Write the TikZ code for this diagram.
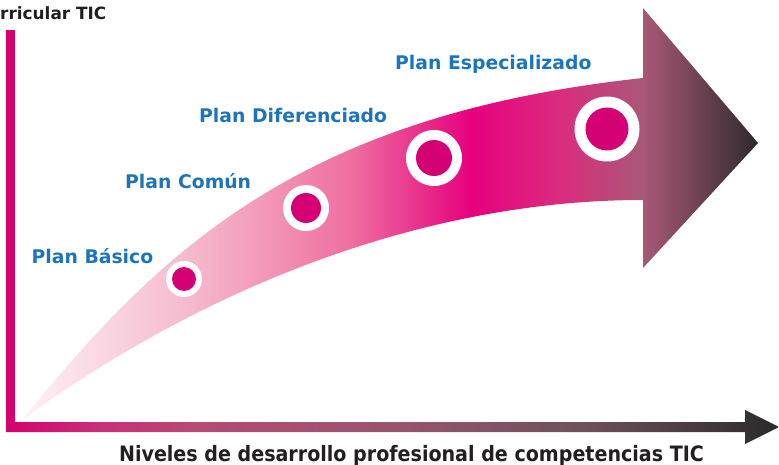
\documentclass[tikz,border=0pt]{standalone}
\usepackage{fontspec}
\setmainfont{DejaVu Sans}
\newfontfamily\axisfont[FakeStretch=0.9]{DejaVu Sans}
\usetikzlibrary{calc}
\definecolor{planblue}{HTML}{1C75BC}
\definecolor{dotmagenta}{HTML}{D40074}
\definecolor{axismagenta}{HTML}{D6006F}
\definecolor{textdark}{HTML}{231F20}
\definecolor{shA}{HTML}{FDF2F6}
\definecolor{shB}{HTML}{F5B6CB}
\definecolor{shC}{HTML}{EE6EA0}
\definecolor{shD}{HTML}{E6007E}
\definecolor{shE}{HTML}{DB2C7E}
\definecolor{shF}{HTML}{A95878}
\definecolor{shG}{HTML}{2E2A2C}
\definecolor{axA}{HTML}{C8307A}
\definecolor{axB}{HTML}{B64A74}
\definecolor{axC}{HTML}{985570}
\definecolor{axD}{HTML}{6E505C}
\definecolor{axE}{HTML}{2A2A2B}
\pgfdeclarehorizontalshading{arrowshade}{100bp}{color(0bp)=(shA); color(25bp)=(shA); color(37bp)=(shB); color(47.4bp)=(shC); color(55.5bp)=(shD); color(61.6bp)=(shE); color(67.2bp)=(shF); color(75bp)=(shG); color(100bp)=(shG)}
\pgfdeclarehorizontalshading{axisshade}{100bp}{color(0bp)=(axismagenta); color(25bp)=(axismagenta); color(31bp)=(axA); color(37.5bp)=(axB); color(50bp)=(axC); color(62.5bp)=(axD); color(75bp)=(axE); color(100bp)=(axE)}
\newcommand{\makelevel}[3]{
	\fill[white] (#1) circle (#3);
	\fill[dotmagenta] (#1) circle (#2);
}

\begin{document}
\begin{tikzpicture}[x=1pt,y=-1pt,
	planlabel/.style={anchor=base west, inner sep=0pt, text=planblue, font=\bfseries\fontsize{18.8}{22}\selectfont}]
	\useasboundingbox (0,0) rectangle (779,465);
	\coordinate (origin) at (10.5,427);
	\coordinate (ytop) at (10.5,30);
	\coordinate (xend) at (779,427);
	\coordinate (tail) at (22,420);
	\coordinate (shafttop) at (643,78);
	\coordinate (shaftbot) at (643,200);
	\coordinate (tip) at (758,143);

	% big arrow
	\shade[shading=arrowshade] (tail) .. controls (160,250) and (300,115) .. (shafttop)
		-- (643,8) -- (tip) -- (643,268) -- (shaftbot)
		.. controls (420,200) and (200,290) .. (tail) -- cycle;

	\coordinate (L1) at (184,279);
	\coordinate (L2) at (306,208);
	\coordinate (L3) at (434,158);
	\coordinate (L4) at (607,129);
	\makelevel{L1}{12pt}{18pt}
	\makelevel{L2}{15pt}{23pt}
	\makelevel{L3}{18pt}{28pt}
	\makelevel{L4}{21.5pt}{32.5pt}

	\node[planlabel] (basico) at (31.5,263.3) {Plan Básico};
	\node[planlabel] (comun) at (125,189) {Plan Común};
	\node[planlabel] (diferenciado) at (199,122.5) {Plan Diferenciado};
	\node[planlabel] (especializado) at (395,69.5) {Plan Especializado};

	% axes
	\fill[axismagenta] ($(ytop)+(-4.5,0)$) rectangle ($(origin)+(4.5,5)$);
	\shade[shading=axisshade]
		($(origin)+(-4.5,-5)$) -- ($(xend)+(-34,-5)$) -- ($(xend)+(-34,-17)$) -- (xend)
		-- ($(xend)+(-34,17)$) -- ($(xend)+(-34,5)$) -- ($(origin)+(-4.5,5)$) -- cycle;

	\node[anchor=base, inner sep=0pt, text=textdark, font=\axisfont\bfseries\fontsize{21.2}{25}\selectfont] (xlabel) at (411.5,461.5) {Niveles de desarrollo profesional de competencias TIC};
	\node[anchor=base west, inner sep=0pt, text=textdark, font=\bfseries\fontsize{16.9}{20}\selectfont] (ylabel) at (0,19.2) {rricular TIC};
\end{tikzpicture}
\end{document}
